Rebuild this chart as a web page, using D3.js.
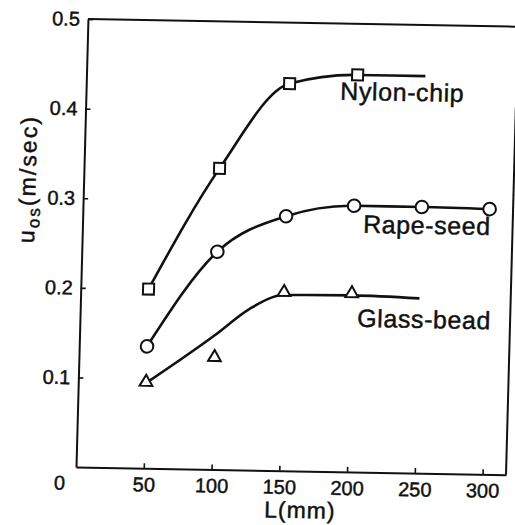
<!DOCTYPE html>
<html>
<head>
<meta charset="utf-8">
<script src="https://cdn.jsdelivr.net/npm/d3@7"></script>
<style>
  html, body { margin: 0; padding: 0; background: #fff; }
  svg { display: block; }
  text { font-family: "Liberation Sans", Arial, sans-serif; fill: #111; stroke: #111; stroke-width: 0.45px; }
</style>
</head>
<body>
<svg id="chart" width="515" height="525"></svg>
<script>
// Flow velocity u_os against length L for three granular materials
const nylonL = [50, 100, 150, 200];
const nylonU = [0.200, 0.336, 0.432, 0.443];
const nylonCurveL = [50, 100, 150, 200, 250];
const nylonCurveU = [0.200, 0.336, 0.432, 0.443, 0.443];

const rapeL = [50, 100, 150, 200, 250, 300];
const rapeU = [0.136, 0.243, 0.284, 0.297, 0.297, 0.296];

const glassL = [50, 100, 150, 200];
const glassU = [0.095, 0.124, 0.198, 0.198];
// smoothed trend line drawn through the glass-bead data
const glassCurveL = [50, 100, 125, 150, 200, 250];
const glassCurveU = [0.095, 0.150, 0.180, 0.196, 0.197, 0.195];

const yTicks = [0.1, 0.2, 0.3, 0.4, 0.5];
const xTicks = [50, 100, 150, 200, 250, 300];

const seriesLabels = [
  { text: "Nylon-chip", L: 187.5, u: 0.415 },
  { text: "Rape-seed",  L: 207.0, u: 0.267 },
  { text: "Glass-bead", L: 204.5, u: 0.162 }
];

const svg = d3.select("#chart");
const ox = 76, oy = 467;

// the printed frame sits slightly askew on the page
const g = svg.append("g")
  .attr("transform", `translate(${ox},${oy}) matrix(1,0.018,-0.0267,1,0,0) translate(${-ox},${-oy})`);

const x = d3.scaleLinear().domain([0, 317.3]).range([ox, ox + 430]);
const y = d3.scaleLinear().domain([0, 0.5]).range([oy, oy - 448]);

const ink = "#111";

// axes with inward ticks
const xAxis = g.append("g")
  .attr("transform", `translate(0,${oy})`)
  .call(d3.axisBottom(x).tickValues(xTicks).tickSizeInner(-5).tickSizeOuter(0).tickPadding(9)
    .tickFormat(d3.format("d")));
const yAxis = g.append("g")
  .attr("transform", `translate(${ox},0)`)
  .call(d3.axisLeft(y).tickValues(yTicks).tickSizeInner(-5).tickSizeOuter(0).tickPadding(8)
    .tickFormat(d3.format(".1f")));

[xAxis, yAxis].forEach(a => {
  a.select(".domain").attr("stroke", ink).attr("stroke-width", 2);
  a.selectAll(".tick line").attr("stroke", ink).attr("stroke-width", 1.6);
  a.selectAll(".tick text").attr("font-size", 20).attr("fill", ink)
    .attr("font-family", "'Liberation Sans', Arial, sans-serif");
});

// top edge and partial right edge of the frame
g.append("line")
  .attr("x1", x(0)).attr("y1", y(0.5)).attr("x2", x(330)).attr("y2", y(0.5))
  .attr("stroke", ink).attr("stroke-width", 2);
g.append("line")
  .attr("x1", x(317.3)).attr("y1", y(0)).attr("x2", x(317.3)).attr("y2", y(0.41))
  .attr("stroke", ink).attr("stroke-width", 2);

// origin label
g.append("text")
  .attr("x", x(0) - 16).attr("y", oy + 23)
  .attr("text-anchor", "middle").attr("font-size", 20).text("0");

// axis titles
g.append("text")
  .attr("x", x(166)).attr("y", oy + 47)
  .attr("text-anchor", "middle").attr("font-size", 23).attr("letter-spacing", 1)
  .text("L(mm)");

const yt = g.append("text")
  .attr("transform", `translate(28,181) rotate(-90)`)
  .attr("text-anchor", "middle").attr("font-size", 23)
  .attr("textLength", 126).attr("lengthAdjust", "spacing");
yt.append("tspan").text("u");
yt.append("tspan").attr("font-size", 17).attr("dy", 5).text("os");
yt.append("tspan").attr("dy", -5).text("(m/sec)");

// curves
const line = d3.line().x(d => x(d[0])).y(d => y(d[1])).curve(d3.curveMonotoneX);
const zip = (a, b) => a.map((v, i) => [v, b[i]]);

[[nylonCurveL, nylonCurveU], [rapeL, rapeU], [glassCurveL, glassCurveU]].forEach(([ls, us]) => {
  g.append("path")
    .attr("d", line(zip(ls, us)))
    .attr("fill", "none").attr("stroke", ink).attr("stroke-width", 2.6);
});

// markers
g.selectAll(".sq").data(zip(nylonL, nylonU)).join("rect")
  .attr("x", d => x(d[0]) - 5.5).attr("y", d => y(d[1]) - 5.5)
  .attr("width", 11).attr("height", 11)
  .attr("fill", "#fff").attr("stroke", ink).attr("stroke-width", 2);

g.selectAll(".ci").data(zip(rapeL, rapeU)).join("circle")
  .attr("cx", d => x(d[0])).attr("cy", d => y(d[1])).attr("r", 6.3)
  .attr("fill", "#fff").attr("stroke", ink).attr("stroke-width", 2);

const tri = d3.symbol().type(d3.symbolTriangle).size(70);
g.selectAll(".tr").data(zip(glassL, glassU)).join("path")
  .attr("d", tri)
  .attr("transform", d => `translate(${x(d[0])},${y(d[1]) - 1})`)
  .attr("fill", "#fff").attr("stroke", ink).attr("stroke-width", 2);

// series names
g.selectAll(".lab").data(seriesLabels).join("text")
  .attr("x", d => x(d.L)).attr("y", d => y(d.u))
  .attr("font-size", 25).attr("letter-spacing", 0.6)
  .text(d => d.text);
</script>
</body>
</html>
